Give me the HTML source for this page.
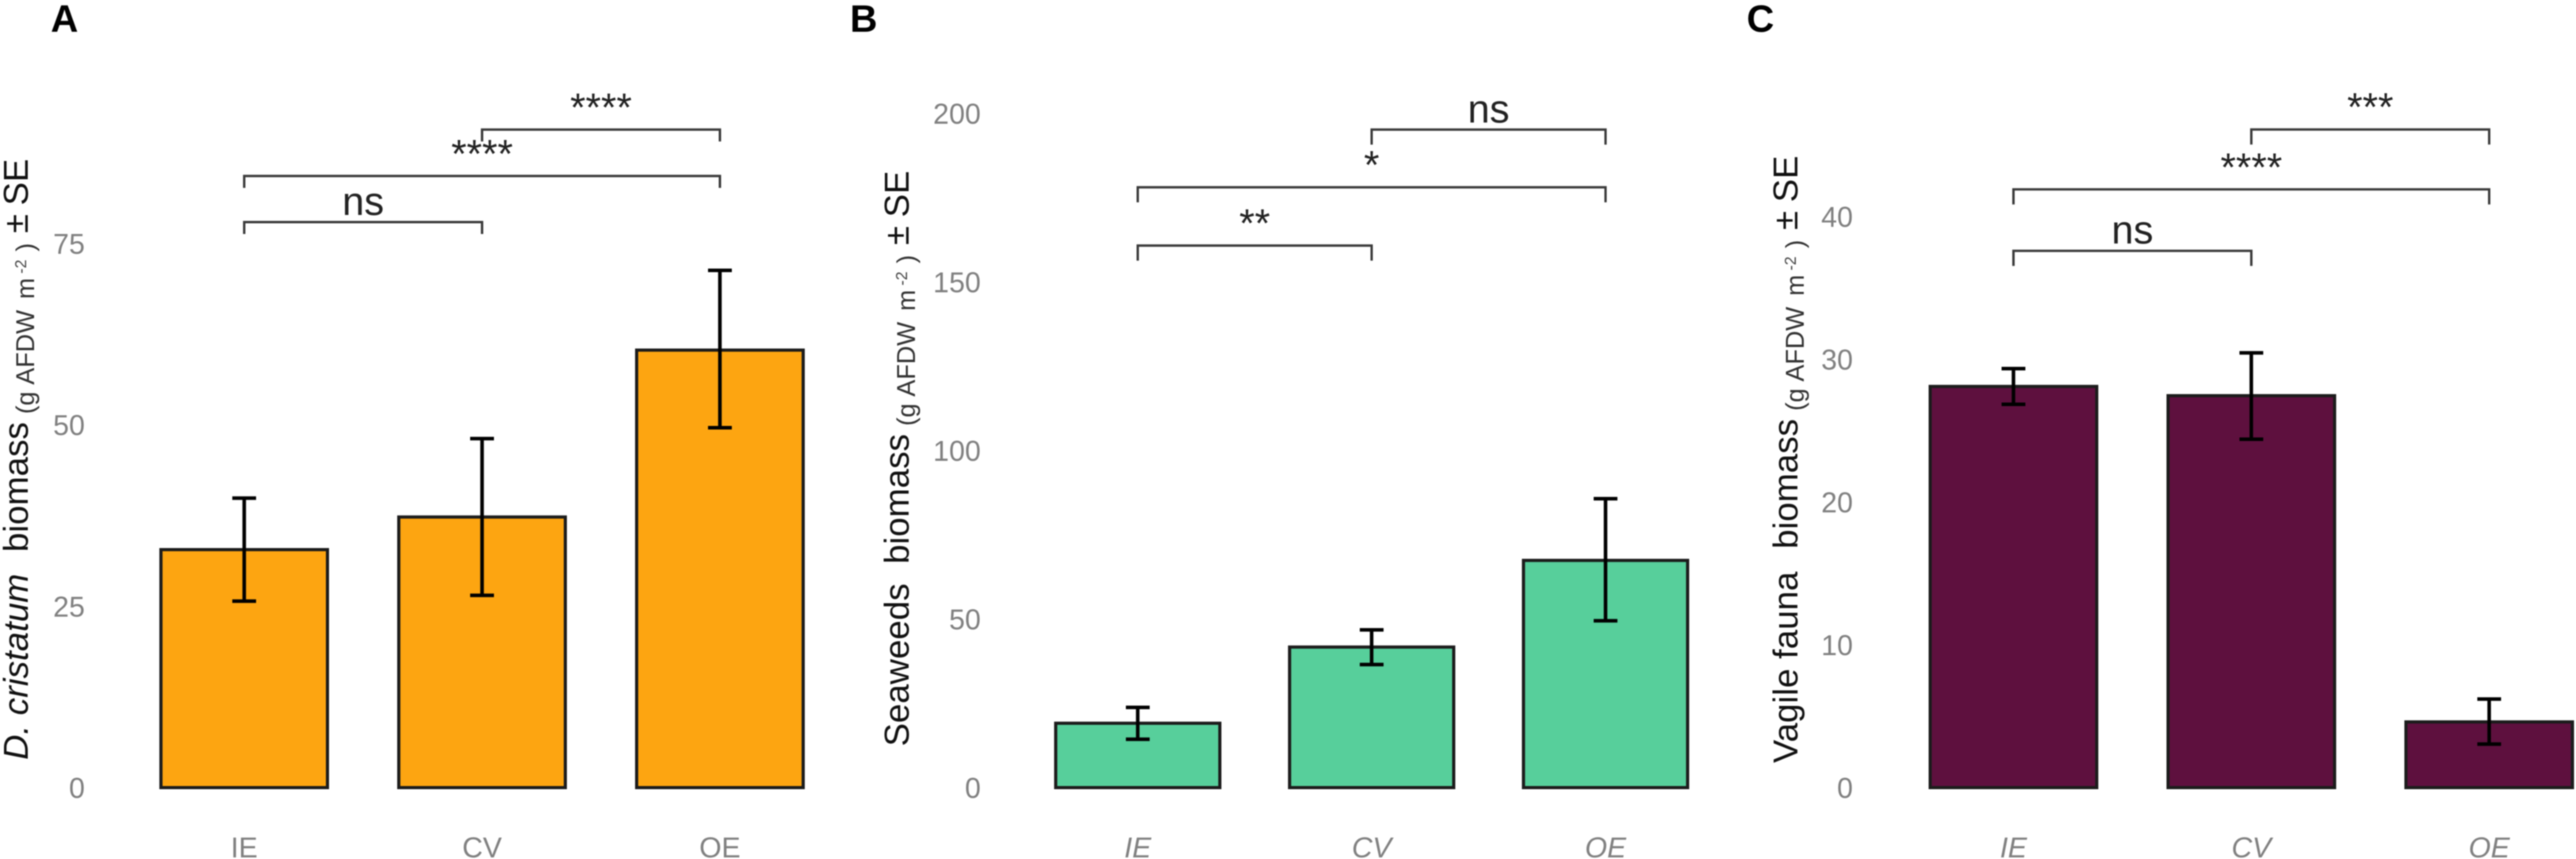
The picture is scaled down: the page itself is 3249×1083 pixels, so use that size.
<!DOCTYPE html>
<html lang="en">
<head>
<meta charset="utf-8">
<title>Biomass bar charts by zone</title>
<style>
  html, body { margin: 0; padding: 0; background: #fff; }
  body { width: 3249px; height: 1083px; overflow: hidden; }
  svg { display: block; filter: blur(0.7px); }
  text { font-family: "Liberation Sans", sans-serif; }
  .panel-letter { font-size: 48px; font-weight: 700; fill: #000; }
  .title-main { font-size: 44px; fill: #111; }
  .title-small { font-size: 32px; fill: #333; }
  .title-sup { font-size: 20px; fill: #444; }
  .tick-label { font-size: 36px; fill: #808080; }
  .sig-label { font-size: 50px; fill: #222; }
</style>
</head>
<body>
<svg id="figure" xmlns="http://www.w3.org/2000/svg" width="3249" height="1083" viewBox="0 0 3249 1083">
  <rect x="0" y="0" width="3249" height="1083" fill="#ffffff"/>

  <text class="panel-letter" x="64" y="40">A</text>
  <text class="panel-letter" x="1072" y="40">B</text>
  <text class="panel-letter" x="2203" y="40">C</text>

  <g transform="translate(0,0)">
    <text class="title-main" font-style="italic" transform="translate(35,958) rotate(-90)">D. cristatum</text>
    <text class="title-main" transform="translate(35,696) rotate(-90)">biomass</text>
    <text class="title-small" transform="translate(43,522) rotate(-90)">(g</text>
    <text class="title-small" transform="translate(43,485) rotate(-90)">AFDW</text>
    <text class="title-small" transform="translate(43,377) rotate(-90)">m</text>
    <text class="title-sup" transform="translate(33,345) rotate(-90)">-2</text>
    <text class="title-small" transform="translate(43,317) rotate(-90)">)</text>
    <text class="title-main" transform="translate(35,294) rotate(-90)">±</text>
    <text class="title-main" transform="translate(35,259) rotate(-90)">SE</text>
  </g>

  <g transform="translate(1111,15)">
    <text class="title-main" transform="translate(35,926) rotate(-90)">Seaweeds</text>
    <text class="title-main" transform="translate(35,696) rotate(-90)">biomass</text>
    <text class="title-small" transform="translate(43,522) rotate(-90)">(g</text>
    <text class="title-small" transform="translate(43,485) rotate(-90)">AFDW</text>
    <text class="title-small" transform="translate(43,377) rotate(-90)">m</text>
    <text class="title-sup" transform="translate(33,345) rotate(-90)">-2</text>
    <text class="title-small" transform="translate(43,317) rotate(-90)">)</text>
    <text class="title-main" transform="translate(35,294) rotate(-90)">±</text>
    <text class="title-main" transform="translate(35,259) rotate(-90)">SE</text>
  </g>

  <g transform="translate(2232,-4)">
    <text class="title-main" transform="translate(35,966) rotate(-90)">Vagile fauna</text>
    <text class="title-main" transform="translate(35,696) rotate(-90)">biomass</text>
    <text class="title-small" transform="translate(43,522) rotate(-90)">(g</text>
    <text class="title-small" transform="translate(43,485) rotate(-90)">AFDW</text>
    <text class="title-small" transform="translate(43,377) rotate(-90)">m</text>
    <text class="title-sup" transform="translate(33,345) rotate(-90)">-2</text>
    <text class="title-small" transform="translate(43,317) rotate(-90)">)</text>
    <text class="title-main" transform="translate(35,294) rotate(-90)">±</text>
    <text class="title-main" transform="translate(35,259) rotate(-90)">SE</text>
  </g>
</svg>

<script>
// Panel A: D. cristatum
const categoriesA = ['IE', 'CV', 'OE'];
const meansA = [32.8, 37.3, 60.3];
const errorHighA = [39.9, 48.1, 71.3];
const errorLowA = [25.7, 26.5, 49.6];
const ticksA = [0, 25, 50, 75];
const bracketLevelsA = [90.7, 84.3, 77.95];
const bracketFromA = [1, 0, 0];
const bracketToA = [2, 2, 1];
const bracketLabelsA = ['****', '****', 'ns'];

// Panel B: Seaweeds
const categoriesB = ['IE', 'CV', 'OE'];
const meansB = [19.1, 41.7, 67.4];
const errorHighB = [23.8, 46.8, 85.7];
const errorLowB = [14.35, 36.5, 49.5];
const ticksB = [0, 50, 100, 150, 200];
const bracketLevelsB = [195.2, 178.1, 160.8];
const bracketFromB = [1, 0, 0];
const bracketToB = [2, 2, 1];
const bracketLabelsB = ['ns', '*', '**'];

// Panel C: Vagile fauna
const categoriesC = ['IE', 'CV', 'OE'];
const meansC = [28.1, 27.45, 4.6];
const errorHighC = [29.35, 30.45, 6.2];
const errorLowC = [26.85, 24.4, 3.05];
const ticksC = [0, 10, 20, 30, 40];
const bracketLevelsC = [46.1, 41.9, 37.6];
const bracketFromC = [1, 0, 0];
const bracketToC = [2, 2, 1];
const bracketLabelsC = ['***', '****', 'ns'];

const SVG_NS = 'http://www.w3.org/2000/svg';
const figure = document.getElementById('figure');

function make(parent, tag, attrs, text) {
  const el = document.createElementNS(SVG_NS, tag);
  for (const key in attrs) el.setAttribute(key, attrs[key]);
  if (text !== undefined) el.textContent = text;
  parent.appendChild(el);
  return el;
}

function drawPanel(p) {
  const xPos = function (i) { return p.firstX + i * p.stepX; };
  const yPos = function (v) { return p.baseY - v * p.pxPerUnit; };

  const panel = make(figure, 'g', {});
  
  

  p.ticks.forEach(function (t) {
    const label = make(panel, 'text', {
      class: 'tick-label', x: p.tickX, y: yPos(t) + 13, 'text-anchor': 'end'
    }, String(t));
    
    
  });

  p.categories.forEach(function (cat, i) {
    const cx = xPos(i);
    const bar = make(panel, 'rect', {
      x: cx - p.barWidth / 2,
      y: yPos(p.means[i]),
      width: p.barWidth,
      height: p.baseY - yPos(p.means[i]),
      fill: p.color,
      stroke: '#1c1c1c',
      'stroke-width': 4
    });
    
    

    const err = make(panel, 'path', {
      d: 'M' + (cx - 15) + ' ' + yPos(p.high[i]) + 'H' + (cx + 15) +
         'M' + cx + ' ' + yPos(p.high[i]) + 'V' + yPos(p.low[i]) +
         'M' + (cx - 15) + ' ' + yPos(p.low[i]) + 'H' + (cx + 15),
      fill: 'none', stroke: '#000', 'stroke-width': 4.5
    });
    
    

    const label = make(panel, 'text', {
      class: 'tick-label', x: cx, y: 1081, 'text-anchor': 'middle',
      'font-style': p.italicLabels ? 'italic' : 'normal'
    }, cat);
    
    
  });

  p.levels.forEach(function (level, i) {
    const x1 = xPos(p.from[i]);
    const x2 = xPos(p.to[i]);
    const y = yPos(level);
    const bracket = make(panel, 'path', {
      d: 'M' + x1 + ' ' + (y + p.bracketDrop) + 'V' + y + 'H' + x2 + 'V' + (y + p.bracketDrop),
      fill: 'none', stroke: '#3a3a3a', 'stroke-width': 3
    });
    
    

    const isStars = p.labels[i].charAt(0) === '*';
    const label = make(panel, 'text', {
      class: 'sig-label', x: (x1 + x2) / 2, y: y - (isStars ? 11 : 9), 'text-anchor': 'middle'
    }, p.labels[i]);
    
    
  });
}

drawPanel({
  id: 'a', color: '#FDA511', firstX: 308, stepX: 300, barWidth: 210, baseY: 993,
  pxPerUnit: 9.147, tickX: 107, bracketDrop: 15, italicLabels: false,
  categories: categoriesA, means: meansA, high: errorHighA, low: errorLowA,
  ticks: ticksA, levels: bracketLevelsA, from: bracketFromA, to: bracketToA, labels: bracketLabelsA
});
drawPanel({
  id: 'b', color: '#57CF9B', firstX: 1435, stepX: 295, barWidth: 207, baseY: 993,
  pxPerUnit: 4.25, tickX: 1237, bracketDrop: 19, italicLabels: true,
  categories: categoriesB, means: meansB, high: errorHighB, low: errorLowB,
  ticks: ticksB, levels: bracketLevelsB, from: bracketFromB, to: bracketToB, labels: bracketLabelsB
});
drawPanel({
  id: 'c', color: '#5E103E', firstX: 2539.5, stepX: 300, barWidth: 210, baseY: 993,
  pxPerUnit: 18, tickX: 2337, bracketDrop: 19, italicLabels: true,
  categories: categoriesC, means: meansC, high: errorHighC, low: errorLowC,
  ticks: ticksC, levels: bracketLevelsC, from: bracketFromC, to: bracketToC, labels: bracketLabelsC
});
</script>
</body>
</html>
